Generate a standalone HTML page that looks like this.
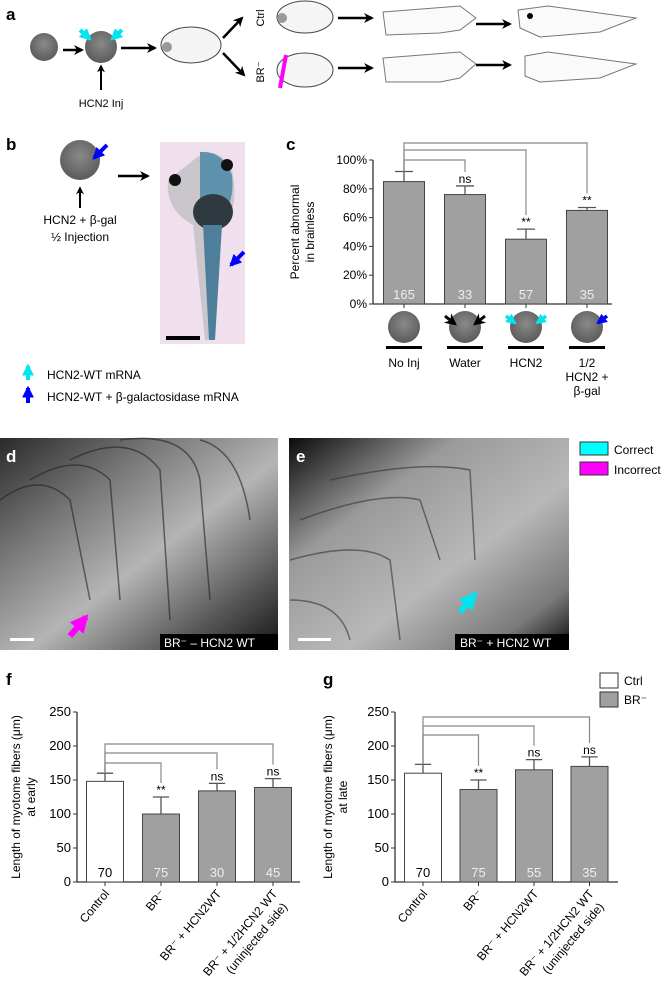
<!DOCTYPE html>
<html><head><meta charset="utf-8"><style>
body{margin:0;background:#fff;overflow:hidden;}
svg{display:block;font-family:"Liberation Sans",sans-serif;}
</style></head><body>
<svg id="fig" width="671" height="994" viewBox="0 0 671 994">
<defs>
<marker id="ah" viewBox="0 0 10 10" refX="8" refY="5" markerWidth="4" markerHeight="4" orient="auto"><path d="M0,0L10,5L0,10L3,5z" fill="#000"/></marker>
<marker id="ahC" viewBox="0 0 10 10" refX="8" refY="5" markerWidth="3" markerHeight="3" orient="auto"><path d="M0,0L10,5L0,10z" fill="#00e5ee"/></marker>
<marker id="ahB" viewBox="0 0 10 10" refX="8" refY="5" markerWidth="3" markerHeight="3" orient="auto"><path d="M0,0L10,5L0,10z" fill="#0000ff"/></marker>
<marker id="ahM" viewBox="0 0 10 10" refX="8" refY="5" markerWidth="3" markerHeight="3" orient="auto"><path d="M0,0L10,5L0,10z" fill="#ff00ff"/></marker>
<radialGradient id="egg" cx="50%" cy="40%" r="60%"><stop offset="0" stop-color="#8a8a8a"/><stop offset="1" stop-color="#5a5a5a"/></radialGradient>
<linearGradient id="photoD" x1="0" y1="0" x2="1" y2="1"><stop offset="0" stop-color="#2a2a2a"/><stop offset="0.3" stop-color="#7a7a7a"/><stop offset="0.55" stop-color="#b5b5b5"/><stop offset="0.8" stop-color="#5a5a5a"/><stop offset="1" stop-color="#151515"/></linearGradient>
<linearGradient id="photoE" x1="0" y1="0" x2="1" y2="1"><stop offset="0" stop-color="#0a0a0a"/><stop offset="0.3" stop-color="#9a9a9a"/><stop offset="0.6" stop-color="#b8b8b8"/><stop offset="0.85" stop-color="#7a7a7a"/><stop offset="1" stop-color="#0a0a0a"/></linearGradient>
</defs>

<!-- Panel a -->
<g>
<text x="6" y="20" font-size="17" font-weight="bold">a</text>
<circle cx="44" cy="47" r="14" fill="url(#egg)"/>
<circle cx="101" cy="47" r="16" fill="url(#egg)"/>
<line x1="63" y1="50" x2="82" y2="50" stroke="#000" stroke-width="2.5" marker-end="url(#ah)"/>
<line x1="80" y1="30" x2="90" y2="39" stroke="#00e5ee" stroke-width="4" marker-end="url(#ahC)"/>
<line x1="122" y1="30" x2="112" y2="39" stroke="#00e5ee" stroke-width="4" marker-end="url(#ahC)"/>
<line x1="101" y1="90" x2="101" y2="66" stroke="#000" stroke-width="2" marker-end="url(#ah)"/>
<text x="101" y="107" font-size="11" text-anchor="middle">HCN2 Inj</text>
<line x1="121" y1="48" x2="155" y2="48" stroke="#000" stroke-width="2.5" marker-end="url(#ah)"/>
<ellipse cx="191" cy="45" rx="30" ry="18" fill="#f4f4f4" stroke="#444"/>
<circle cx="167" cy="47" r="5" fill="#999"/>
<line x1="223" y1="38" x2="242" y2="18" stroke="#000" stroke-width="2.5" marker-end="url(#ah)"/>
<line x1="223" y1="53" x2="244" y2="75" stroke="#000" stroke-width="2.5" marker-end="url(#ah)"/>
<text transform="translate(264,18) rotate(-90)" font-size="11" text-anchor="middle">Ctrl</text>
<text transform="translate(264,72) rotate(-90)" font-size="11" text-anchor="middle">BR⁻</text>
<ellipse cx="305" cy="17" rx="28" ry="16" fill="#f5f5f5" stroke="#444"/>
<circle cx="282" cy="18" r="5" fill="#999"/>
<ellipse cx="305" cy="70" rx="28" ry="17" fill="#f5f5f5" stroke="#444"/>
<line x1="286" y1="55" x2="280" y2="88" stroke="#ff00ff" stroke-width="4"/>
<line x1="338" y1="18" x2="372" y2="18" stroke="#000" stroke-width="2.5" marker-end="url(#ah)"/>
<line x1="338" y1="68" x2="372" y2="68" stroke="#000" stroke-width="2.5" marker-end="url(#ah)"/>
<path d="M383,12 L460,6 L476,18 L460,30 L440,33 L386,35 Z" fill="#fafafa" stroke="#777"/>
<path d="M383,58 L460,52 L476,64 L460,78 L440,82 L386,82 Z" fill="#fafafa" stroke="#777"/>
<line x1="476" y1="24" x2="510" y2="24" stroke="#000" stroke-width="2.5" marker-end="url(#ah)"/>
<line x1="476" y1="65" x2="510" y2="65" stroke="#000" stroke-width="2.5" marker-end="url(#ah)"/>
<path d="M518,10 L548,6 L636,18 L600,32 L540,37 L520,28 Z" fill="#fafafa" stroke="#777"/>
<circle cx="530" cy="16" r="3" fill="#000"/>
<path d="M525,56 L548,52 L636,64 L600,78 L540,82 L525,76 Z" fill="#fafafa" stroke="#777"/>
</g>

<!-- Panel b -->
<g>
<text x="6" y="150" font-size="17" font-weight="bold">b</text>
<circle cx="80" cy="160" r="20" fill="url(#egg)"/>
<line x1="107" y1="145" x2="94" y2="158" stroke="#0000ff" stroke-width="4" marker-end="url(#ahB)"/>
<line x1="80" y1="208" x2="80" y2="188" stroke="#000" stroke-width="2" marker-end="url(#ah)"/>
<text x="80" y="224" font-size="12" text-anchor="middle">HCN2 + β-gal</text>
<text x="80" y="241" font-size="12" text-anchor="middle">½ Injection</text>
<line x1="118" y1="176" x2="148" y2="176" stroke="#000" stroke-width="2.5" marker-end="url(#ah)"/>
<rect x="160" y="142" width="85" height="202" fill="#f0e0ee"/>
<path d="M190,163 Q215,140 232,170 Q240,210 222,225 L212,340 L205,340 L193,225 Q165,210 168,180 Z" fill="#c9c6cc"/>
<path d="M200,152 Q222,150 232,175 Q235,205 220,215 L200,215 Z" fill="#5f93ad"/>
<ellipse cx="213" cy="212" rx="20" ry="18" fill="#2e3a40"/>
<path d="M203,225 L222,225 L215,340 L209,340 Z" fill="#4e7f9a"/>
<circle cx="175" cy="180" r="6" fill="#111"/><circle cx="227" cy="165" r="6" fill="#111"/>
<line x1="244" y1="252" x2="231" y2="265" stroke="#0000ff" stroke-width="4" marker-end="url(#ahB)"/>
<rect x="166" y="336" width="34" height="4" fill="#000"/>
<line x1="28" y1="380" x2="28" y2="366" stroke="#00e5ee" stroke-width="4" marker-end="url(#ahC)"/>
<text x="47" y="379" font-size="12">HCN2-WT mRNA</text>
<line x1="28" y1="403" x2="28" y2="388" stroke="#0000ff" stroke-width="4" marker-end="url(#ahB)"/>
<text x="47" y="401" font-size="12">HCN2-WT + β-galactosidase mRNA</text>
</g>

<!-- Panel c chart -->
<g id="chartC">
<text x="286" y="150" font-size="17" font-weight="bold">c</text>
<text transform="translate(299,232) rotate(-90)" font-size="12" text-anchor="middle">Percent abnormal</text>
<text transform="translate(314,232) rotate(-90)" font-size="12" text-anchor="middle">in brainless</text>
</g>

<!-- Panels d,e -->
<g>
<rect x="0" y="438" width="278" height="212" fill="url(#photoD)"/>
<g stroke="#222" stroke-width="1.5" fill="none" opacity="0.6">
<path d="M0,500 Q40,470 70,500 L90,600"/><path d="M30,480 Q80,450 110,480 L120,600"/><path d="M70,460 Q130,430 160,470 L170,620"/><path d="M120,440 Q190,430 200,480 L210,600"/><path d="M200,440 Q240,450 250,520"/>
</g>
<text x="6" y="462" font-size="17" font-weight="bold" fill="#fff">d</text>
<line x1="70" y1="636" x2="86" y2="617" stroke="#ff00ff" stroke-width="6" marker-end="url(#ahM)"/>
<rect x="10" y="638" width="24" height="3" fill="#fff"/>
<rect x="160" y="634" width="118" height="16" fill="#000"/>
<text x="164" y="647" font-size="12" fill="#fff">BR⁻ – HCN2 WT</text>
</g>
<g>
<rect x="289" y="438" width="280" height="212" fill="url(#photoE)"/>
<g stroke="#333" stroke-width="1.5" fill="none" opacity="0.6">
<path d="M300,520 Q380,490 420,500 L440,560"/><path d="M290,560 Q360,540 390,560 L400,640"/><path d="M330,480 Q420,460 470,470 L475,560"/><path d="M290,600 Q340,600 350,640"/>
</g>
<text x="296" y="462" font-size="17" font-weight="bold" fill="#fff">e</text>
<line x1="460" y1="612" x2="475" y2="594" stroke="#00e5ee" stroke-width="6" marker-end="url(#ahC)"/>
<rect x="298" y="638" width="33" height="3" fill="#fff"/>
<rect x="455" y="634" width="114" height="16" fill="#000"/>
<text x="460" y="647" font-size="12" fill="#fff">BR⁻ + HCN2 WT</text>
</g>
<g>
<rect x="580" y="442" width="28" height="13" fill="#00ffff" stroke="#333"/><text x="614" y="454" font-size="12">Correct</text>
<rect x="580" y="462" width="28" height="13" fill="#ff00ff" stroke="#333"/><text x="614" y="474" font-size="12">Incorrect</text>
</g>

<g id="chartF">
<text x="6" y="685" font-size="17" font-weight="bold">f</text>
<text transform="translate(20,797) rotate(-90)" font-size="12" text-anchor="middle">Length of myotome fibers (μm)</text>
<text transform="translate(35,797) rotate(-90)" font-size="12" text-anchor="middle">at early</text>
</g>
<g id="chartG">
<text x="323" y="685" font-size="17" font-weight="bold">g</text>
<text transform="translate(332,797) rotate(-90)" font-size="12" text-anchor="middle">Length of myotome fibers (μm)</text>
<text transform="translate(347,797) rotate(-90)" font-size="12" text-anchor="middle">at late</text>
<rect x="600" y="673" width="18" height="15" fill="#fff" stroke="#333"/>
<text x="624" y="685" font-size="12">Ctrl</text>
<rect x="600" y="692" width="18" height="15" fill="#a0a0a0" stroke="#333"/>
<text x="624" y="704" font-size="12">BR⁻</text>
</g>
</svg>
<script>
// Panel c data
const cCategories = ["No Inj","Water","HCN2","1/2 HCN2 + β-gal"];
const cValues = [85,76,45,65];
const cErrors = [7,6,7,2];
const cN = ["165","33","57","35"];
const cSig = ["","ns","**","**"];
const cTicks = [0,20,40,60,80,100];
// Panel f data
const fCategories = ["Control","BR⁻","BR⁻ + HCN2WT","BR⁻ + 1/2HCN2 WT|(uninjected side)"];
const fValues = [148,100,134,139];
const fErrors = [12,25,11,13];
const fN = ["70","75","30","45"];
const fSig = ["","**","ns","ns"];
// Panel g data
const gValues = [160,136,165,170];
const gErrors = [13,14,15,14];
const gN = ["70","75","55","35"];
const gSig = ["","**","ns","ns"];
const fgTicks = [0,50,100,150,200,250];

const NS="http://www.w3.org/2000/svg";
function mk(parent,tag,attrs,txt){const e=document.createElementNS(NS,tag);for(const k in attrs)e.setAttribute(k,attrs[k]);if(txt!==undefined)e.textContent=txt;parent.appendChild(e);return e;}

function drawChart(g,opt){
  const {x0,x1,yTop,yBot,max,ticks,vals,errs,ns,sigs,fills,tickFmt,bw,gap,first,brackets,catLabels,fs}=opt;
  const y=v=>yBot-(v/max)*(yBot-yTop);
  const cx=i=>first+i*gap;
  mk(g,'line',{x1:x0,y1:yTop,x2:x0,y2:yBot,stroke:'#333','stroke-width':1.3});
  mk(g,'line',{x1:x0,y1:yBot,x2:x1,y2:yBot,stroke:'#333','stroke-width':1.3});
  ticks.forEach(t=>{
    mk(g,'line',{x1:x0-4,y1:y(t),x2:x0,y2:y(t),stroke:'#333'});
    const tl=mk(g,'text',{x:x0-6,y:y(t)+4,'font-size':fs,'text-anchor':'end'},tickFmt(t));
    
    
  });
  vals.forEach((v,i)=>{
    const c=cx(i);
    const r=mk(g,'rect',{x:c-bw/2,y:y(v),width:bw,height:yBot-y(v),fill:fills[i],stroke:'#444','stroke-width':1});
    
    
    const et=y(v+errs[i]);
    const eb=mk(g,'line',{x1:c,y1:y(v),x2:c,y2:et,stroke:'#555','stroke-width':1.3});
    
    
    mk(g,'line',{x1:c-bw*0.22,y1:et,x2:c+bw*0.22,y2:et,stroke:'#555','stroke-width':1.3});
    const nt=mk(g,'text',{x:c,y:yBot-5,'font-size':13,'text-anchor':'middle',fill:fills[i]==='#fff'?'#000':'#eee'},ns[i]);
    
    
    if(sigs[i]){const s=mk(g,'text',{x:c,y:et-3,'font-size':12,'text-anchor':'middle'},sigs[i]);
      
      }
    mk(g,'line',{x1:c,y1:yBot,x2:c,y2:yBot+4,stroke:'#333'});
  });
  brackets.forEach(b=>{
    const c0=cx(0),ci=cx(b.i);
    const top0=y(vals[0]+errs[0]);
    const topi=y(vals[b.i]+errs[b.i])-(sigs[b.i]?14:0);
    const p=mk(g,'path',{d:`M${c0},${top0} L${c0},${b.y} L${ci},${b.y} L${ci},${topi}`,fill:'none',stroke:'#888','stroke-width':1.2});
    
    
  });
  catLabels(g,cx,yBot);
}

const gc=document.getElementById('chartC');
drawChart(gc,{x0:373,x1:612,yTop:160,yBot:304,max:100,ticks:cTicks,vals:cValues,errs:cErrors,ns:cN,sigs:cSig,fs:12,
  fills:['#a0a0a0','#a0a0a0','#a0a0a0','#a0a0a0'],tickFmt:t=>t+'%',bw:41,gap:61,first:404,
  brackets:[{i:3,y:143},{i:2,y:150},{i:1,y:160}],
  catLabels:(g,cx,yb)=>{
    cCategories.forEach((c,i)=>{
      const x=cx(i);
      const e=mk(g,'circle',{cx:x,cy:327,r:16,fill:'url(#egg)'});
      
      
      mk(g,'rect',{x:x-18,y:346,width:36,height:3,fill:'#000'});
      const parts=c==="1/2 HCN2 + β-gal"?["1/2","HCN2 +","β-gal"]:[c];
      parts.forEach((p,k)=>{const t=mk(g,'text',{x:x,y:367+k*14,'font-size':12,'text-anchor':'middle'},p);
        
        });
    });
    mk(g,'line',{x1:cx(1)-20,y1:316,x2:cx(1)-10,y2:324,stroke:'#000','stroke-width':3,'marker-end':'url(#ah)'});
    mk(g,'line',{x1:cx(1)+20,y1:316,x2:cx(1)+10,y2:324,stroke:'#000','stroke-width':3,'marker-end':'url(#ah)'});
    mk(g,'line',{x1:cx(2)-20,y1:316,x2:cx(2)-11,y2:323,stroke:'#00e5ee','stroke-width':3.5,'marker-end':'url(#ahC)'});
    mk(g,'line',{x1:cx(2)+20,y1:316,x2:cx(2)+11,y2:323,stroke:'#00e5ee','stroke-width':3.5,'marker-end':'url(#ahC)'});
    mk(g,'line',{x1:cx(3)+20,y1:316,x2:cx(3)+11,y2:323,stroke:'#0000ff','stroke-width':3.5,'marker-end':'url(#ahB)'});
  }});

function fgLabels(g,cx,yb){
  fCategories.forEach((c,i)=>{
    const lines=c.split('|');
    lines.forEach((l,k)=>{
      const t=mk(g,'text',{'font-size':12,'text-anchor':'end',transform:`translate(${cx(i)+5+k*10},${yb+12+k*13}) rotate(-50)`},l);
      
      
    });
  });
}
const ff=['#fff','#a0a0a0','#a0a0a0','#a0a0a0'];
drawChart(document.getElementById('chartF'),{x0:77,x1:300,yTop:712,yBot:882,max:250,ticks:fgTicks,vals:fValues,errs:fErrors,ns:fN,sigs:fSig,fs:13,
  fills:ff,tickFmt:t=>t,bw:37,gap:56,first:105,brackets:[{i:3,y:744},{i:2,y:753},{i:1,y:763}],catLabels:fgLabels});
drawChart(document.getElementById('chartG'),{x0:395,x1:618,yTop:712,yBot:882,max:250,ticks:fgTicks,vals:gValues,errs:gErrors,ns:gN,sigs:gSig,fs:13,
  fills:ff,tickFmt:t=>t,bw:37,gap:55.5,first:423,brackets:[{i:3,y:717},{i:2,y:726},{i:1,y:735}],catLabels:fgLabels});
</script>
</body></html>
